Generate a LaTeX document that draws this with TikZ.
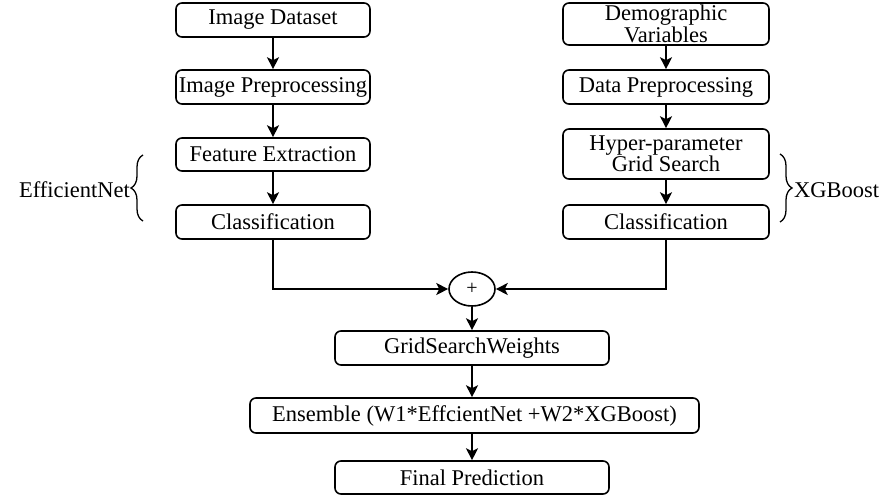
\documentclass[tikz,border=0pt]{standalone}
\usepackage{fontspec}
\setmainfont{Liberation Serif}
\usetikzlibrary{arrows.meta,shapes.geometric,decorations.pathreplacing}
\begin{document}
\begin{tikzpicture}[x=1pt,y=-1pt,
  box/.style={draw,line width=1.6pt,rounded corners=6pt,inner sep=0pt,align=center,font=\fontsize{22.5}{20}\selectfont},
  arr/.style={line width=1.6pt,-{Stealth[length=12pt,width=12pt,inset=3pt]}},
  lab/.style={font=\fontsize{22.5}{20}\selectfont,inner sep=0pt}]
\useasboundingbox (0,0) rectangle (893,495);
% left column
\node[box,minimum width=194pt,minimum height=34pt] (ds) at (273,20) {Image Dataset};
\node[box,minimum width=194pt,minimum height=34pt] (ip) at (273,87) {Image Preprocessing};
\node[box,minimum width=194pt,minimum height=33pt] (fe) at (273,154.5) {Feature Extraction};
\node[box,minimum width=194pt,minimum height=34pt] (cl1) at (273,222) {Classification};
% right column
\node[box,minimum width=206pt,minimum height=42pt] (dv) at (666,24) {Demographic\\Variables};
\node[box,minimum width=206pt,minimum height=34pt] (dp) at (666,87) {Data Preprocessing};
\node[box,minimum width=206pt,minimum height=50pt] (hp) at (666,154) {Hyper-parameter\\Grid Search};
\node[box,minimum width=206pt,minimum height=34pt] (cl2) at (666,222) {Classification};
% merge
\node[draw,ellipse,line width=1.6pt,minimum width=46pt,minimum height=34pt,inner sep=0pt,font=\fontsize{20}{20}\selectfont] (plus) at (472,289) {+};
\node[box,minimum width=274pt,minimum height=34pt] (gsw) at (472,348) {GridSearchWeights};
\node[box,minimum width=449pt,minimum height=35pt] (ens) at (474.5,415.5) {Ensemble (W1*EffcientNet +W2*XGBoost)};
\node[box,minimum width=274pt,minimum height=33pt] (fp) at (472,477.5) {Final Prediction};
% arrows
\draw[arr] (ds) -- (ip);
\draw[arr] (ip) -- (fe);
\draw[arr] (fe) -- (cl1);
\draw[arr] (dv) -- (dp);
\draw[arr] (dp) -- (hp);
\draw[arr] (hp) -- (cl2);
\draw[arr] (cl1.south) |- (plus.west);
\draw[arr] (cl2.south) |- (plus.east);
\draw[arr] (plus) -- (gsw);
\draw[arr] (gsw) -- (ens.north -| gsw);
\draw[arr] (ens.south -| fp) -- (fp);
% braces
\coordinate (lb1) at (143,221);
\coordinate (lb2) at (143,155);
\draw[line width=1.3pt,decorate,decoration={brace,amplitude=12pt}] (lb1) -- (lb2);
\node[lab,anchor=east] (effn) at (130,190) {EfficientNet};
\coordinate (rb1) at (780,154);
\coordinate (rb2) at (780,222);
\draw[line width=1.3pt,decorate,decoration={brace,amplitude=12pt}] (rb1) -- (rb2);
\node[lab,anchor=west] (xgb) at (794,190) {XGBoost};
\end{tikzpicture}
\end{document}
